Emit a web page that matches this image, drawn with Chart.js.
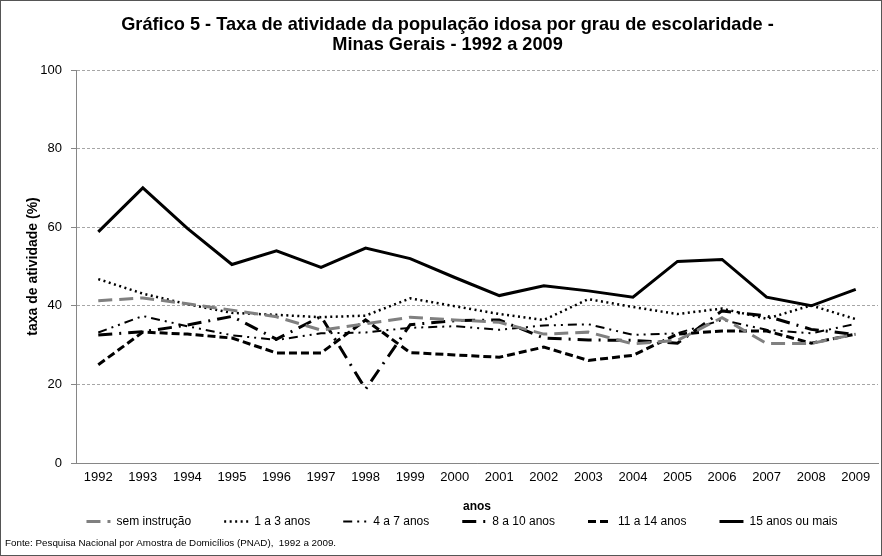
<!DOCTYPE html>
<html><head><meta charset="utf-8">
<script src="https://cdn.jsdelivr.net/npm/chart.js@4.4.0/dist/chart.umd.min.js"></script>
<style>html,body{margin:0;padding:0;background:#fff}#wrap{width:882px;height:556px;position:relative}</style>
</head><body><div id="wrap"><canvas id="c" width="882" height="556"></canvas></div>
<script>
const years = ['1992','1993','1994','1995','1996','1997','1998','1999','2000','2001','2002','2003','2004','2005','2006','2007','2008','2009'];
const semInstrucao = [41.3, 42.0, 40.5, 38.9, 37.2, 33.8, 35.4, 37.1, 36.4, 35.8, 32.8, 33.3, 30.3, 31.2, 37.0, 30.4, 30.4, 32.8];
const anos1a3 = [46.8, 43.1, 40.4, 38.2, 37.7, 37.1, 37.5, 41.9, 39.9, 37.9, 36.4, 41.7, 39.7, 37.9, 39.3, 36.7, 40.1, 36.6];
const anos4a7 = [33.2, 37.4, 34.8, 32.5, 31.3, 33.0, 33.2, 34.4, 34.8, 33.9, 35.0, 35.3, 32.6, 33.0, 36.4, 33.9, 33.0, 35.4];
const anos8a10 = [32.6, 33.4, 35.1, 37.3, 31.5, 37.3, 18.8, 35.2, 36.2, 36.4, 31.8, 31.3, 31.2, 30.5, 38.7, 37.4, 34.0, 32.7];
const anos11a14 = [25.0, 33.3, 32.8, 31.8, 28.0, 28.0, 36.4, 28.1, 27.5, 26.9, 29.5, 26.1, 27.4, 32.8, 33.6, 33.6, 30.5, 32.8];
const anos15mais = [58.8, 70.0, 59.7, 50.5, 54.0, 49.8, 54.7, 52.0, 47.2, 42.6, 45.1, 43.8, 42.2, 51.3, 51.8, 42.2, 40.0, 44.2];
const yTicks = [0, 20, 40, 60, 80, 100];
const fonteText = 'Fonte: Pesquisa Nacional por Amostra de Domicílios (PNAD),  1992 a 2009.';

const FONT = "'Liberation Sans', Arial, sans-serif";
Chart.defaults.color = '#000';
Chart.defaults.font.family = FONT;

function ds(label, data, color, dash, width) {
  return {label, data, borderColor: color, backgroundColor: color, borderDash: dash,
    borderWidth: width, pointRadius: 0, pointHoverRadius: 0, tension: 0, fill: false};
}

const framePlugin = {
  id: 'frame',
  afterLayout(chart) {
    if (chart.titleBlock) { chart.titleBlock.left += 12; }
    if (chart.legend) {
      const lg = chart.legend;
      lg.left += 41;
      lg.top = 482.5;
      lg.bottom = 550;
      lg.height = lg.bottom - lg.top;
    }
  },
  afterDraw(chart) {
    const c = chart.ctx;
    c.save();
    c.fillStyle = '#000';
    c.font = '9.8px ' + FONT;
    c.textAlign = 'left';
    c.textBaseline = 'middle';
    c.fillText(fonteText, 5, 543);
    c.strokeStyle = '#555';
    c.lineWidth = 1;
    c.strokeRect(0.5, 0.5, chart.width - 1, chart.height - 1);
    c.restore();
  }
};

new Chart(document.getElementById('c'), {
  type: 'line',
  data: {
    labels: years,
    datasets: [
      ds('sem instrução', semInstrucao, '#808080', [14, 7], 3),
      ds('1 a 3 anos', anos1a3, '#000', [2, 3.5], 2.5),
      ds('4 a 7 anos', anos4a7, '#000', [9, 5, 2, 5, 2, 5], 2),
      ds('8 a 10 anos', anos8a10, '#000', [14, 7, 2, 7], 3),
      ds('11 a 14 anos', anos11a14, '#000', [8, 4], 3),
      ds('15 anos ou mais', anos15mais, '#000', [], 3)
    ]
  },
  options: {
    responsive: false,
    animation: false,
    layout: {padding: {left: 5, right: 4, top: 0, bottom: 0}},
    plugins: {
      title: {
        display: true,
        text: ['Gráfico 5 - Taxa de atividade da população idosa por grau de escolaridade -', 'Minas Gerais - 1992 a 2009'],
        font: {family: FONT, size: 18.2, weight: 'bold', lineHeight: '20px'},
        color: '#000',
        padding: {top: 15, bottom: 15}
      },
      legend: {
        position: 'bottom',
        maxHeight: 41.8,
        labels: {
          usePointStyle: true,
          pointStyle: 'line',
          pointStyleWidth: 24,
          boxWidth: 24,
          padding: 33,
          font: {family: FONT, size: 12},
          color: '#000',
          generateLabels(chart) {
            const items = Chart.defaults.plugins.legend.labels.generateLabels(chart);
            items.forEach(it => {
              const d = chart.data.datasets[it.datasetIndex];
              it.lineDash = d.borderDash;
              it.lineWidth = d.borderWidth;
              it.strokeStyle = d.borderColor;
              it.fillStyle = d.borderColor;
              it.lineCap = 'butt';
            });
            return items;
          }
        }
      },
      tooltip: {enabled: false}
    },
    scales: {
      x: {
        offset: true,
        grid: {display: true, drawOnChartArea: false, drawTicks: false},
        border: {display: true, color: '#868686', width: 1},
        ticks: {font: {family: FONT, size: 13}, padding: 7, maxRotation: 0, autoSkip: false},
        title: {display: true, text: 'anos', font: {family: FONT, size: 12, weight: 'bold'}, padding: {top: 7.2, bottom: 0}}
      },
      y: {
        min: 0, max: 100,
        afterBuildTicks(scale) { scale.ticks = yTicks.map(v => ({value: v})); },
        afterFit(scale) { scale.width = 71; },
        grid: {color: '#a6a6a6', lineWidth: 1, drawTicks: true, tickLength: 5, tickColor: '#868686', tickBorderDash: []},
        border: {display: true, color: '#868686', width: 1, dash: [3, 2]},
        ticks: {font: {family: FONT, size: 13}, padding: 9},
        title: {display: true, text: 'taxa de atividade (%)', font: {family: FONT, size: 14, weight: 'bold'}, padding: {top: 19.6, bottom: 0}}
      }
    }
  },
  plugins: [framePlugin]
});
</script>
</body></html>
